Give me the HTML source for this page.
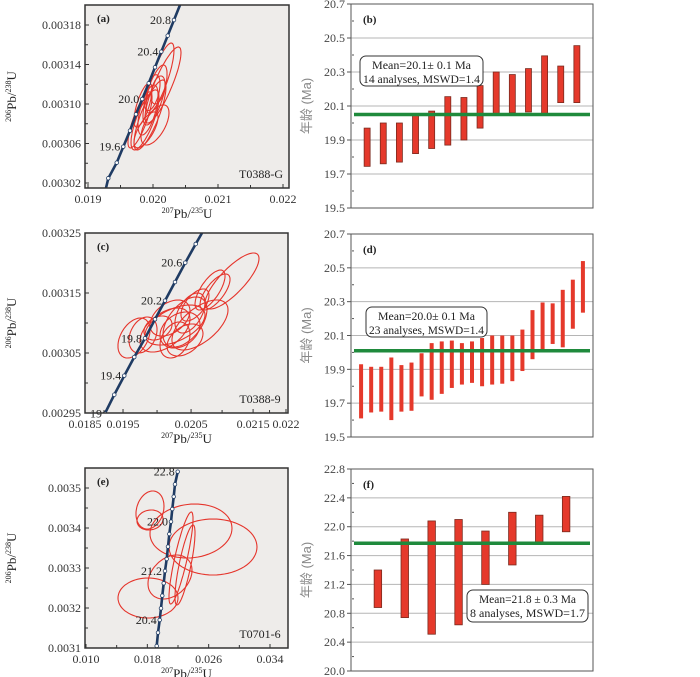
<!DOCTYPE html>
<html><head><meta charset="utf-8"><style>
html,body{margin:0;padding:0;background:#fff;}
svg{display:block;font-family:"Liberation Serif","Noto Serif CJK SC",serif;}
</style></head><body>
<svg id="fig" width="700" height="677" viewBox="0 0 700 677" xmlns="http://www.w3.org/2000/svg">
<defs>
<clipPath id="clipA"><rect x="85" y="5" width="204" height="183"/></clipPath>
<clipPath id="clipC"><rect x="85" y="233" width="203" height="180"/></clipPath>
<clipPath id="clipE"><rect x="85" y="468" width="203" height="180"/></clipPath>
</defs>
</svg>
<script>
// ===== Weighted-mean bar data =====
const bLow  = [19.745,19.76,19.77,19.82,19.85,19.87,19.90,19.97,20.045,20.06,20.065,20.045,20.12,20.12];
const bHigh = [19.97,20.0,20.0,20.05,20.07,20.155,20.15,20.22,20.30,20.285,20.32,20.395,20.335,20.455];
const bMean = 20.05;
const bTicks = [19.5,19.7,19.9,20.1,20.3,20.5,20.7];
const bTickLabels = ["19.5","19.7","19.9","20.1","20.3","20.5","20.7"];

const dLow  = [19.61,19.645,19.65,19.60,19.65,19.655,19.74,19.72,19.755,19.79,19.81,19.82,19.80,19.81,19.815,19.83,19.89,19.96,20.01,20.05,20.03,20.14,20.235];
const dHigh = [19.93,19.915,19.915,19.97,19.925,19.94,19.995,20.055,20.065,20.07,20.055,20.065,20.085,20.10,20.10,20.10,20.135,20.25,20.295,20.29,20.37,20.43,20.54];
const dMean = 20.01;
const dTicks = [19.5,19.7,19.9,20.1,20.3,20.5,20.7];
const dTickLabels = ["19.5","19.7","19.9","20.1","20.3","20.5","20.7"];

const fLow  = [20.88,20.74,20.51,20.64,21.20,21.47,21.78,21.93];
const fHigh = [21.40,21.83,22.08,22.10,21.94,22.20,22.16,22.42];
const fMean = 21.77;
const fTicks = [20.0,20.4,20.8,21.2,21.6,22.0,22.4,22.8];
const fTickLabels = ["20.0","20.4","20.8","21.2","21.6","22.0","22.4","22.8"];

// ===== Concordia data (207Pb/235U, 206Pb/238U) =====
const aCurveX = [0.019277,0.019312,0.019442,0.019543,0.019646,0.019738,0.019835,0.019934,0.020031,0.020128,0.020226,0.020323,0.020415];
const aCurveY = [0.0030149,0.0030248,0.0030406,0.0030568,0.0030730,0.0030896,0.0031051,0.0031210,0.0031372,0.0031530,0.0031692,0.0031851,0.0032003];
const aEllX  = [0.020154,0.020108,0.020031,0.019954,0.019877,0.019923,0.019985,0.019800,0.020031,0.019846,0.020077,0.019892];
const aEllY  = [0.0031192,0.0031263,0.0031091,0.0030889,0.0030839,0.0030939,0.0031114,0.0030839,0.0030788,0.0030989,0.0031142,0.0030738];
const aEllSX = [0.000277,0.000215,0.000185,0.000246,0.000215,0.000154,0.000123,0.000185,0.000215,0.000138,0.000108,0.000185];
const aEllSY = [0.0000385,0.0000354,0.0000304,0.0000354,0.0000304,0.0000253,0.0000182,0.0000284,0.0000203,0.0000223,0.0000142,0.0000182];
const aEllR  = [0.85,0.8,0.7,0.8,0.75,0.6,0.5,0.8,0.6,0.7,0.4,0.7];

const cCurveX = [0.018848,0.019010,0.019184,0.019358,0.019545,0.019719,0.019893,0.020067,0.020246,0.020428,0.020537];
const cCurveY = [0.0029495,0.0029805,0.0030122,0.0030433,0.0030745,0.0031062,0.0031372,0.0031683,0.0032005,0.0032317,0.00325];
const cEllX  = [0.019353,0.019510,0.019893,0.020067,0.020241,0.020154,0.020502,0.020328,0.020677,0.021060,0.020764,0.020067,0.020241,0.019980,0.019771,0.020415];
const cEllY  = [0.003075,0.003080,0.0030883,0.0030967,0.0031017,0.0030883,0.0030967,0.0031167,0.003155,0.00317,0.0031517,0.0030717,0.0030717,0.0031083,0.0030917,0.00313];
const cEllSX = [0.000279,0.000244,0.000435,0.000522,0.000383,0.000348,0.000488,0.000261,0.000261,0.00047,0.000261,0.000261,0.000313,0.000348,0.000244,0.000244];
const cEllSY = [0.0000333,0.00003,0.0000367,0.0000333,0.0000417,0.00003,0.0000417,0.0000333,0.0000333,0.0000467,0.00003,0.00003,0.0000267,0.00003,0.00002,0.0000267];
const cEllR  = [0.4,0.3,0.5,0.5,0.5,0.3,0.6,0.5,0.7,0.8,0.7,0.3,0.4,0.4,0.3,0.6];

const eCurveX = [0.019221,0.019391,0.019613,0.019782,0.019952,0.020134,0.020304,0.020526,0.020695,0.020865,0.021087,0.021256,0.021438,0.021608,0.021960];
const eCurveY = [0.003105,0.0031383,0.00317,0.0031993,0.0032308,0.0032618,0.0032925,0.0033225,0.0033533,0.003385,0.0034158,0.0034475,0.0034783,0.0035093,0.0035408];
const eEllX  = [0.018347,0.018347,0.023695,0.026565,0.022391,0.022913,0.020956,0.018087];
const eEllY  = [0.003445,0.00342,0.0033925,0.0033525,0.003325,0.0033075,0.0032775,0.003225];
const eEllSX = [0.001826,0.001696,0.005348,0.005739,0.001565,0.001304,0.002869,0.003913];
const eEllSY = [0.0000475,0.000025,0.0000675,0.00007,0.000115,0.0001,0.000055,0.00005];
const eEllR  = [0.2,0.1,0.1,0.0,0.85,0.8,0.3,0.0];

const aXTicks=[0.019,0.020,0.021,0.022], aXLabels=["0.019","0.020","0.021","0.022"];
const aYTicks=[0.00302,0.00306,0.00310,0.00314,0.00318], aYLabels=["0.00302","0.00306","0.00310","0.00314","0.00318"];
const cXTicks=[0.0185,0.019162,0.020347,0.021427,0.022], cXLabels=["0.0185","0.0195","0.0205","0.0215","0.022"];
const cYTicks=[0.00295,0.00305,0.00315,0.00325], cYLabels=["0.00295","0.00305","0.00315","0.00325"];
const eXTicks=[0.010,0.018,0.026,0.034], eXLabels=["0.010","0.018","0.026","0.034"];
const eYTicks=[0.0031,0.0032,0.0033,0.0034,0.0035], eYLabels=["0.0031","0.0032","0.0033","0.0034","0.0035"];

const aAgeLabels=["20.8","20.4","20.0","19.6"], aAgeIdx=[11,9,6,3];
const cAgeLabels=["19","19.4","19.8","20.2","20.6"], cAgeIdx=[0,2,4,6,8];
const eAgeLabels=["22.8","22.0","21.2","20.4"], eAgeIdx=[14,10,6,2];

const NS="http://www.w3.org/2000/svg";
const svg=document.getElementById('fig');
function mk(tag,attrs,parent){const e=document.createElementNS(NS,tag);for(const k in attrs)e.setAttribute(k,attrs[k]);(parent||svg).appendChild(e);return e;}
function lin(d0,d1,r0,r1){return v=>r0+(v-d0)*(r1-r0)/(d1-d0);}

function concordia(p){
  const g=mk('g',{});
  
  
  const X=lin(p.xd[0],p.xd[1],p.xr[0],p.xr[1]), Y=lin(p.yd[0],p.yd[1],p.yr[0],p.yr[1]);
  const bx=p.box;
  const bg=mk('rect',{x:bx[0],y:bx[1],width:bx[2]-bx[0],height:bx[3]-bx[1],fill:'#eeecea'},g);
  
  
  const cg=mk('g',{'clip-path':'url(#'+p.clip+')'},g);
  for(let i=0;i<p.ex.length;i++){
    let pts=[];const r=p.er[i],q=Math.sqrt(1-r*r);
    for(let k=0;k<=72;k++){const t=k/72*2*Math.PI;
      const vx=p.ex[i]+p.esx[i]*Math.cos(t), vy=p.ey[i]+p.esy[i]*(r*Math.cos(t)+q*Math.sin(t));
      pts.push(X(vx).toFixed(1)+','+Y(vy).toFixed(1));}
    const el=mk('polygon',{points:pts.join(' '),fill:'none',stroke:'#e5342b','stroke-width':1.1},cg);
    
    
  }
  const cp=p.cx.map((v,i)=>X(v).toFixed(1)+','+Y(p.cy[i]).toFixed(1)).join(' ');
  const cl=mk('polyline',{points:cp,fill:'none',stroke:'#1f3b63','stroke-width':2.6},cg);
  
  
  for(let i=p.mStart;i<p.mEnd;i++){
    const m=mk('circle',{cx:X(p.cx[i]),cy:Y(p.cy[i]),r:1.8,fill:'#fff',stroke:'#1f3b63','stroke-width':0.8},cg);
    
    
  }
  p.al.forEach((s,j)=>{const i=p.ai[j];
    const t=mk('text',{x:X(p.cx[i])-3,y:Y(p.cy[i])+4,'text-anchor':'end','font-size':12,fill:'#222'},g);
    t.textContent=s;
    
    });
  const fr=mk('rect',{x:bx[0],y:bx[1],width:bx[2]-bx[0],height:bx[3]-bx[1],fill:'none',stroke:'#333','stroke-width':1.5},g);
  
  
  p.xt.forEach((v,i)=>{const x=X(v);
    mk('line',{x1:x,x2:x,y1:bx[3],y2:bx[3]-4,stroke:'#333'},g);
    const t=mk('text',{x:x,y:bx[3]+15,'text-anchor':'middle','font-size':12,fill:'#333'},g);t.textContent=p.xl[i];
    
    
    if(i<p.xt.length-1){const xm=(x+X(p.xt[i+1]))/2;mk('line',{x1:xm,x2:xm,y1:bx[3],y2:bx[3]-3,stroke:'#333'},g);}
  });
  p.yt.forEach((v,i)=>{const y=Y(v);
    mk('line',{x1:bx[0],x2:bx[0]+4,y1:y,y2:y,stroke:'#333'},g);
    const t=mk('text',{x:bx[0]-4,y:y+4,'text-anchor':'end','font-size':12,fill:'#333'},g);t.textContent=p.yl[i];
    
    
    if(i<p.yt.length-1){const ym=(y+Y(p.yt[i+1]))/2;mk('line',{x1:bx[0],x2:bx[0]+3,y1:ym,y2:ym,stroke:'#333'},g);}
  });
  const lab=mk('text',{x:bx[0]+12,y:bx[1]+17,'font-size':11,'font-weight':'bold',fill:'#222'},g);lab.textContent=p.letter;
  
  
  const sm=mk('text',{x:bx[2]-28,y:bx[3]-10,'text-anchor':'middle','font-size':12,fill:'#222'},g);sm.textContent=p.sample;
  
  
  const cxm=(bx[0]+bx[2])/2;
  const xt=mk('text',{x:cxm,y:bx[3]+30,'text-anchor':'middle','font-size':13,fill:'#222'},g);
  xt.innerHTML='<tspan font-size="8" dy="-5">207</tspan><tspan dy="5">Pb/</tspan><tspan font-size="8" dy="-5">235</tspan><tspan dy="5">U</tspan>';
  
  
  const cym=(bx[1]+bx[3])/2;
  const yt=mk('text',{x:0,y:0,'text-anchor':'middle','font-size':13,fill:'#222',transform:'translate(16,'+cym+') rotate(-90)'},g);
  yt.innerHTML='<tspan font-size="8" dy="-5">206</tspan><tspan dy="5">Pb/</tspan><tspan font-size="8" dy="-5">238</tspan><tspan dy="5">U</tspan>';
  
  
}

concordia({name:'concordia-panel-a',box:[85,5,289,188],clip:'clipA',xd:[0.019,0.022],xr:[88,283],yd:[0.00302,0.00318],yr:[183,25],
  cx:aCurveX,cy:aCurveY,mStart:1,mEnd:12,ex:aEllX,ey:aEllY,esx:aEllSX,esy:aEllSY,er:aEllR,
  xt:aXTicks,xl:aXLabels,yt:aYTicks,yl:aYLabels,al:aAgeLabels,ai:aAgeIdx,letter:'(a)',sample:'T0388-G'});
concordia({name:'concordia-panel-c',box:[85,233,288,413],clip:'clipC',xd:[0.0185,0.022],xr:[85,286],yd:[0.00295,0.00325],yr:[413,233],
  cx:cCurveX,cy:cCurveY,mStart:0,mEnd:10,ex:cEllX,ey:cEllY,esx:cEllSX,esy:cEllSY,er:cEllR,
  xt:cXTicks,xl:cXLabels,yt:cYTicks,yl:cYLabels,al:cAgeLabels,ai:cAgeIdx,letter:'(c)',sample:'T0388-9'});
concordia({name:'concordia-panel-e',box:[85,468,288,648],clip:'clipE',xd:[0.010,0.034],xr:[86,270],yd:[0.0031,0.0035],yr:[648,488],
  cx:eCurveX,cy:eCurveY,mStart:0,mEnd:15,ex:eEllX,ey:eEllY,esx:eEllSX,esy:eEllSY,er:eEllR,
  xt:eXTicks,xl:eXLabels,yt:eYTicks,yl:eYLabels,al:eAgeLabels,ai:eAgeIdx,letter:'(e)',sample:'T0701-6'});

function bars(p){
  const g=mk('g',{});
  
  
  const bx=p.box;
  const Y=lin(p.ticks[0],p.ticks[p.ticks.length-1],bx[3],bx[1]);
  mk('rect',{x:bx[0],y:bx[1],width:bx[2]-bx[0],height:bx[3]-bx[1],fill:'#fff'},g);
  p.ticks.forEach((v,i)=>{const y=Y(v);
    if(i>0&&i<p.ticks.length-1){const gl=mk('line',{x1:bx[0],x2:bx[2],y1:y,y2:y,stroke:'#b5b5b5','stroke-width':1},g);
      
      }
    mk('line',{x1:bx[0]-4,x2:bx[0],y1:y,y2:y,stroke:'#555'},g);
    const t=mk('text',{x:bx[0]-6,y:y+4,'text-anchor':'end','font-size':12,fill:'#444'},g);t.textContent=p.labels[i];
    
    
    if(i<p.ticks.length-1){const ym=(y+Y(p.ticks[i+1]))/2;mk('line',{x1:bx[0]+1,x2:bx[0]+3,y1:ym,y2:ym,stroke:'#555'},g);}
  });
  const n=p.low.length, step=(bx[2]-bx[0])/(n+1);
  const ym=Y(p.mean);
  for(let i=0;i<n;i++){
    const xc=bx[0]+(i+1)*step, y1=Y(p.high[i]), y2=Y(p.low[i]);
    const r=mk('rect',{x:xc-p.bw/2,y:y1,width:p.bw,height:y2-y1,fill:'#e5392b',stroke:p.outline?'#7a2a1e':'none','stroke-width':0.8},g);
    
    
  }
  const ml=mk('line',{x1:bx[0]+3,x2:bx[2]-3,y1:ym,y2:ym,stroke:'#1f8a3c','stroke-width':3.5},g);
  
  
  const fr=mk('rect',{x:bx[0],y:bx[1],width:bx[2]-bx[0],height:bx[3]-bx[1],fill:'none',stroke:'#555','stroke-width':1},g);
  
  
  const lb=p.lbox;
  const bxr=mk('rect',{x:lb[0],y:lb[1],width:lb[2],height:lb[3],rx:6,fill:'#fff',stroke:'#333','stroke-width':1},g);
  
  
  const t1=mk('text',{x:lb[0]+lb[2]/2,y:lb[1]+13,'text-anchor':'middle','font-size':12,fill:'#222',textLength:lb[2]-24,lengthAdjust:'spacingAndGlyphs'},g);t1.textContent=p.t1;
  
  
  const t2=mk('text',{x:lb[0]+lb[2]/2,y:lb[1]+27,'text-anchor':'middle','font-size':12,fill:'#222',textLength:lb[2]-6,lengthAdjust:'spacingAndGlyphs'},g);t2.textContent=p.t2;
  
  
  const lab=mk('text',{x:bx[0]+12,y:bx[1]+19,'font-size':11,'font-weight':'bold',fill:'#222'},g);lab.textContent=p.letter;
  
  
  const yt=mk('text',{x:0,y:0,'text-anchor':'middle','font-size':13,fill:'#888','font-family':'"Liberation Sans","Noto Sans CJK SC",sans-serif',transform:'translate(311,'+((bx[1]+bx[3])/2)+') rotate(-90)'},g);
  yt.textContent='年龄 (Ma)';
  
  
}
bars({name:'mean-age-panel-b',box:[351,4,593,208],ticks:bTicks,labels:bTickLabels,low:bLow,high:bHigh,mean:bMean,bw:6,outline:true,
  lbox:[360,56,123,30],t1:'Mean=20.1± 0.1 Ma',t2:'14 analyses, MSWD=1.4',letter:'(b)'});
bars({name:'mean-age-panel-d',box:[351,234,593,437],ticks:dTicks,labels:dTickLabels,low:dLow,high:dHigh,mean:dMean,bw:4,outline:false,
  lbox:[366,307,121,30],t1:'Mean=20.0± 0.1 Ma',t2:'23 analyses, MSWD=1.4',letter:'(d)'});
bars({name:'mean-age-panel-f',box:[351,469,593,671],ticks:fTicks,labels:fTickLabels,low:fLow,high:fHigh,mean:fMean,bw:7.5,outline:true,
  lbox:[467,590,121,32],t1:'Mean=21.8 ± 0.3 Ma',t2:'8 analyses, MSWD=1.7',letter:'(f)'});
</script>
</body></html>
